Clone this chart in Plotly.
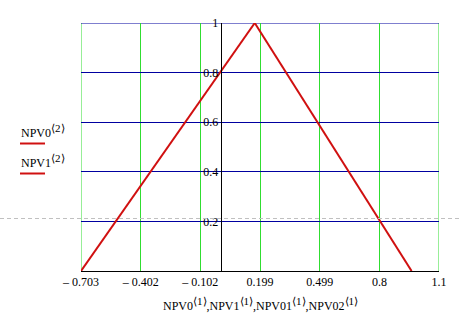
import plotly.graph_objects as go

# Data
npv0_x = [-0.703, 0.172]
npv0_y = [0.0, 1.0]
npv1_x = [0.172, 0.962]
npv1_y = [1.0, 0.0]

x_tickvals = [-0.703, -0.402, -0.102, 0.199, 0.499, 0.8, 1.1]
x_ticktext = ["\u2013 0.703", "\u2013 0.402", "\u2013 0.102", "0.199", "0.499", "0.8", "1.1"]
y_tickvals = [0.2, 0.4, 0.6, 0.8, 1.0]
y_ticktext = ["0.2", "0.4", "0.6", "0.8", "1"]

x_min, x_max = -0.703, 1.1

W, H = 459, 323
L, R, T, B = 81, 20, 23, 52
pw = W - L - R
ph = H - T - B

def px_x(p):
    return (p - L) / pw

def px_y(p):
    return (H - B - p) / ph

FONT = "Liberation Serif, Times New Roman, serif"
RED = "#d01010"
GREEN = "#30dd30"
BLUE = "#0000a0"

def sup(s):
    return f"<sup><span style='font-size:11px'>{s}</span></sup>"

fig = go.Figure()
fig.add_trace(go.Scatter(x=npv0_x, y=npv0_y, mode="lines",
                         line=dict(color=RED, width=2), name="NPV0", showlegend=False))
fig.add_trace(go.Scatter(x=npv1_x, y=npv1_y, mode="lines",
                         line=dict(color=RED, width=2), name="NPV1", showlegend=False))

fig.update_layout(
    width=W, height=H,
    margin=dict(l=L, r=R, t=T, b=B),
    paper_bgcolor="white", plot_bgcolor="white",
    font=dict(family=FONT, size=12, color="black"),
    xaxis=dict(range=[x_min, x_max], tickvals=x_tickvals, ticktext=x_ticktext,
               showgrid=True, gridcolor=GREEN, gridwidth=1,
               zeroline=False, showline=True, linecolor="black", linewidth=1,
               ticks="", tickfont=dict(family=FONT, size=12, color="black")),
    yaxis=dict(range=[0, 1], tickvals=y_tickvals, ticktext=y_ticktext,
               showgrid=True, gridcolor=BLUE, gridwidth=1,
               zeroline=False, showline=True, linecolor="black", linewidth=1,
               anchor="free", position=(0 - x_min) / (x_max - x_min),
               ticks="", tickfont=dict(family=FONT, size=12, color="black")),
)

# edge grid lines (left/right green, top blue)
for xv in [x_min, x_max]:
    fig.add_shape(type="line", xref="x", yref="paper", x0=xv, x1=xv, y0=0, y1=1,
                  line=dict(color=GREEN, width=1), layer="below")
fig.add_shape(type="line", xref="paper", yref="y", x0=0, x1=1, y0=1, y1=1,
              line=dict(color=BLUE, width=1), layer="below")

# dashed gray guide line across the page
fig.add_shape(type="line", xref="paper", yref="paper",
              x0=px_x(0), x1=px_x(W), y0=px_y(218.5), y1=px_y(218.5),
              line=dict(color="#c0c0c0", width=1, dash="4px,3px"))

# legend-like labels
for label, ty, ly in [("NPV0", 130.5, 143.5), ("NPV1", 160.5, 173.5)]:
    fig.add_annotation(xref="paper", yref="paper", x=px_x(19), y=px_y(ty),
                       xanchor="left", yanchor="middle", showarrow=False,
                       text=f"{label}{sup(chr(0x27e8) + '2' + chr(0x27e9))}",
                       font=dict(family=FONT, size=12, color="black"))
    fig.add_shape(type="line", xref="paper", yref="paper",
                  x0=px_x(20), x1=px_x(45), y0=px_y(ly), y1=px_y(ly),
                  line=dict(color=RED, width=2))

# x-axis title
s1 = sup("\u27e81\u27e9")
fig.add_annotation(xref="paper", yref="paper", x=0.5, y=px_y(304),
                   xanchor="center", yanchor="middle", showarrow=False,
                   text=f"NPV0{s1},NPV1{s1},NPV01{s1},NPV02{s1}",
                   font=dict(family=FONT, size=12, color="black"))

fig.write_html("out.html")
